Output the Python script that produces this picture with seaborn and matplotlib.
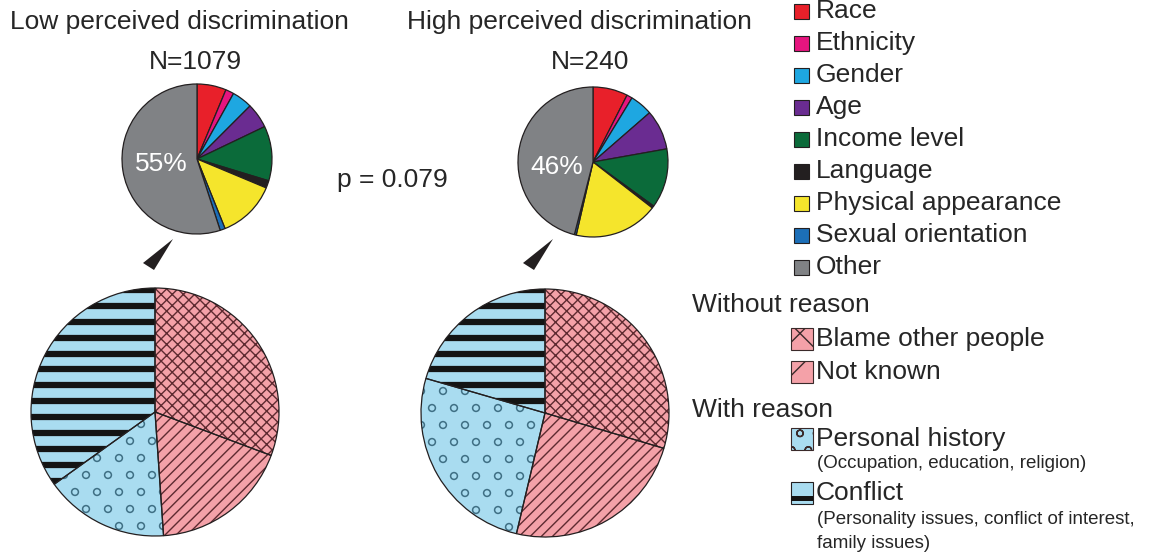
import numpy as np
import matplotlib.pyplot as plt
import seaborn as sns
from matplotlib.patches import Polygon, Rectangle

# Type of perceived discrimination (top pies, %)
cause_labels = ['Race', 'Ethnicity', 'Gender', 'Age', 'Income level', 'Language',
                'Physical appearance', 'Sexual orientation', 'Other']
cause_colors = ['#e8202a', '#e6157f', '#1ea7e1', '#6a2c91', '#0b6b3a', '#231f20',
                '#f5e52c', '#1c6fb8', '#808285']
low_causes = [6.3, 1.8, 4.4, 5.4, 11.8, 1.6, 12.6, 1.1, 55.0]
high_causes = [7.5, 1.2, 4.9, 8.6, 12.8, 0.5, 18.1, 0.4, 46.0]

# Breakdown of "Other" (bottom pies, %)
reason_labels = ['Blame other people', 'Not known', 'Personal history', 'Conflict']
reason_colors = ['#f4a1a8', '#f4a1a8', '#a9dcf0', '#a9dcf0']
reason_hatches = ['xxx', '///', 'o', '-']
low_reasons = [30.7, 18.2, 16.2, 34.9]
high_reasons = [29.6, 24.1, 25.8, 20.5]

group_titles = ['Low perceived discrimination', 'High perceived discrimination']
group_n = ['N=1079', 'N=240']
p_text = 'p = 0.079'

sns.set_theme(style="white")
plt.rcParams['font.family'] = ['Liberation Sans', 'DejaVu Sans']
plt.rcParams['hatch.linewidth'] = 1.0

W, H = 1164, 558
BIG = 19
SMALL = 13.5
fig = plt.figure(figsize=(W / 100, H / 100), dpi=100)
ax = fig.add_axes([0, 0, 1, 1])


def py(y):
    # pixel row -> data y
    return H - y


def top_pie(values, cx, cy):
    ax.pie(values, colors=cause_colors, center=(cx, py(cy)), radius=75,
           startangle=90, counterclock=False,
           wedgeprops=dict(edgecolor='#231f20', linewidth=0.9))
    ax.text(cx - 36, py(cy + 5), f'{values[-1]:.0f}%', color='white',
            fontsize=BIG, ha='center', va='center')


def bottom_pie(values, cx, cy, r=124):
    wedges, _ = ax.pie(values, colors=reason_colors, center=(cx, py(cy)), radius=r,
                       startangle=90, counterclock=False, wedgeprops=dict(linewidth=0))
    # pink wedges: regular hatches
    for w, h in zip(wedges[:2], reason_hatches[:2]):
        w.set_hatch(h)
        w.set_edgecolor('#5e2a30')
        w.set_linewidth(0)

    # personal history: sparse open circles
    gx, gy = [], []
    for k, yy in enumerate(np.arange(cy - r, cy + r, 17)):
        off = 11 if k % 2 else 0
        for xx in np.arange(cx - r + off, cx + r, 22):
            gx.append(xx)
            gy.append(py(yy))
    sc = ax.scatter(gx, gy, s=24, facecolors='none', edgecolors='#3f6f84',
                    linewidths=1.1, zorder=3)
    sc.set_clip_path(wedges[2])

    # conflict: thick black horizontal stripes
    ys = [py(yy) for yy in np.arange(290, cy + r, 15.9)]
    lc = ax.hlines(ys, cx - r, cx + r, colors='#141414', linewidth=4.5, zorder=3)
    lc.set_clip_path(wedges[3])

    ax.pie(values, center=(cx, py(cy)), radius=r, startangle=90, counterclock=False,
           wedgeprops=dict(edgecolor='#231f20', linewidth=0.9, fill=False, zorder=4))


top_pie(low_causes, 197, 159)
top_pie(high_causes, 593, 162)
bottom_pie(low_reasons, 155, 412)
bottom_pie(high_reasons, 545, 413)

ax.set_aspect('equal')
ax.set_xlim(0, W)
ax.set_ylim(0, H)
ax.axis('off')

# titles
ax.text(179, py(22), group_titles[0], fontsize=BIG, ha='center', va='center')
ax.text(579, py(22), group_titles[1], fontsize=BIG, ha='center', va='center')
ax.text(195, py(62), group_n[0], fontsize=BIG, ha='center', va='center')
ax.text(590, py(62), group_n[1], fontsize=BIG, ha='center', va='center')
ax.text(392, py(180), p_text, fontsize=BIG, ha='center', va='center')

# pointer triangles
for dx in (0, 380):
    pts = [(143 + dx, py(263)), (173 + dx, py(239)), (154 + dx, py(270))]
    ax.add_patch(Polygon(pts, closed=True, facecolor='#231f20', edgecolor='none'))

# legend for causes
for i, (lab, col) in enumerate(zip(cause_labels, cause_colors)):
    yc = 11 + 32 * i
    ax.add_patch(Rectangle((794, py(yc + 7.5)), 15, 15, facecolor=col,
                           edgecolor='#231f20', linewidth=0.8))
    ax.text(816, py(yc), lab, fontsize=BIG, ha='left', va='center')

# legend for reasons
ax.text(692, py(305), 'Without reason', fontsize=BIG, ha='left', va='center')
ax.text(692, py(410), 'With reason', fontsize=BIG, ha='left', va='center')
rows = [339, 372, 439, 493]
for lab, col, h, yc in zip(reason_labels, reason_colors, reason_hatches, rows):
    if h == '-':
        ax.add_patch(Rectangle((791, py(yc + 11)), 22, 22, facecolor=col,
                               edgecolor='#231f20', linewidth=0.8))
        ax.add_patch(Rectangle((791, py(yc + 8)), 22, 5, facecolor='#141414',
                               edgecolor='none'))
    else:
        hatch = {'xxx': 'x', '///': '/', 'o': 'o'}[h]
        ax.add_patch(Rectangle((791, py(yc + 11)), 22, 22, facecolor=col, hatch=hatch,
                               edgecolor='#3a2a2a', linewidth=0.8))
    ax.text(816, py(yc), lab, fontsize=BIG, ha='left', va='center')

ax.text(817, py(464), '(Occupation, education, religion)', fontsize=SMALL,
        ha='left', va='center')
ax.text(817, py(520), '(Personality issues, conflict of interest,', fontsize=SMALL,
        ha='left', va='center')
ax.text(817, py(543), 'family issues)', fontsize=SMALL, ha='left', va='center')

fig.savefig('out.png', dpi=100)
